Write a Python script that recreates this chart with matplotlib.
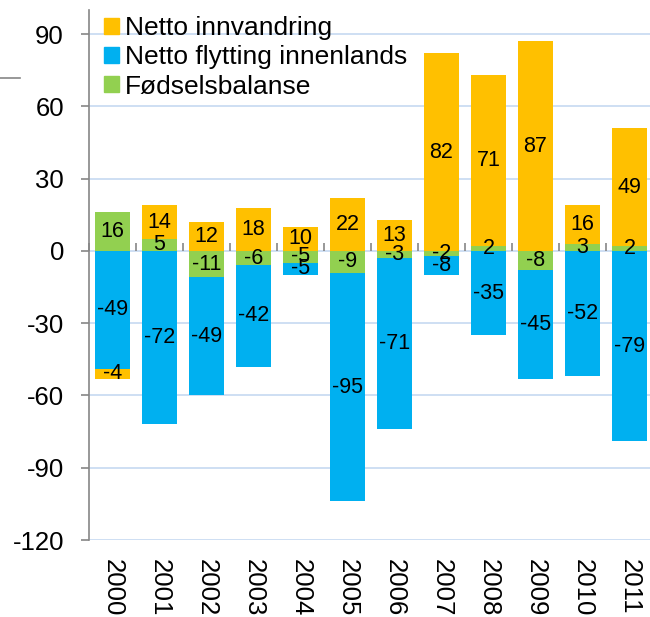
import matplotlib
matplotlib.use("Agg")
import matplotlib.pyplot as plt
import numpy as np
from matplotlib.lines import Line2D
from matplotlib.patches import Patch

plt.rcParams['font.family'] = ['Liberation Sans', 'DejaVu Sans']
plt.rcParams['axes.unicode_minus'] = False

years = ["2000", "2001", "2002", "2003", "2004", "2005", "2006", "2007", "2008", "2009", "2010", "2011"]
fodselsbalanse = [16, 5, -11, -6, -5, -9, -3, -2, 2, -8, 3, 2]
netto_flytting = [-49, -72, -49, -42, -5, -95, -71, -8, -35, -45, -52, -79]
netto_innvandring = [-4, 14, 12, 18, 10, 22, 13, 82, 71, 87, 16, 49]
yticks = [-120, -90, -60, -30, 0, 30, 60, 90]

c_orange = "#FFC000"
c_blue = "#00B0F0"
c_green = "#92D050"
grid_c = "#C6D9F1"
axis_c = "#868686"

fig = plt.figure(figsize=(6.5, 6.17), dpi=100)
ax = fig.add_axes([89/650, 1-540/617, (653-89)/650, (540-10)/617])

x = np.arange(len(years))
pos_bottom = np.zeros(len(years))
neg_bottom = np.zeros(len(years))
series = [(fodselsbalanse, c_green), (netto_flytting, c_blue), (netto_innvandring, c_orange)]
containers = []
for vals, col in series:
    v = np.array(vals, dtype=float)
    bottom = np.where(v >= 0, pos_bottom, neg_bottom)
    bc = ax.bar(x, v, width=0.75, bottom=bottom, color=col, zorder=2)
    containers.append(bc)
    pos_bottom = pos_bottom + np.where(v >= 0, v, 0)
    neg_bottom = neg_bottom + np.where(v < 0, v, 0)

for bc in containers:
    ax.bar_label(bc, labels=[f"{int(b.get_height())}" for b in bc], label_type='center',
                 fontsize=15.5, color='black', zorder=5)

ax.set_xlim(-0.5, len(years) - 0.5)
ax.set_ylim(-120, 100)
ax.set_yticks(yticks)
ax.set_yticklabels([str(t) for t in yticks])
ax.yaxis.grid(True, color=grid_c, linewidth=1.2, zorder=0)
ax.set_axisbelow(True)

for s in ['top', 'right', 'bottom']:
    ax.spines[s].set_visible(False)
ax.spines['left'].set_color(axis_c)
ax.spines['left'].set_linewidth(1.2)
ax.tick_params(axis='y', direction='out', length=6, width=1.2, color=axis_c,
               labelsize=18.5, pad=12)

ax.set_xticks(x)
ax.set_xticklabels(years, rotation=-90, fontsize=18.5, va='top', ha='center')
ax.tick_params(axis='x', length=0, pad=14)

# zero axis with category boundary ticks
zero_frac = (0 - (-120)) / 220
sec = ax.secondary_xaxis(zero_frac)
sec.set_xticks(np.arange(len(years) + 1) - 0.5)
sec.set_xticklabels([])
sec.tick_params(axis='x', direction='out', length=6, width=1.2, color=axis_c)
sec.spines['bottom'].set_color(axis_c)
sec.spines['bottom'].set_linewidth(2)
sec.spines['top'].set_visible(False)
sec.set_zorder(4)

handles = [Patch(color=c_orange), Patch(color=c_blue), Patch(color=c_green)]
labels = ["Netto innvandring", "Netto flytting innenlands", "Fødselsbalanse"]
leg = fig.legend(handles, labels, loc='upper left', bbox_to_anchor=(104/650, 1 - 16/617),
                 bbox_transform=fig.transFigure, frameon=False, fontsize=19,
                 handlelength=0.55, handleheight=0.55, handletextpad=0.25,
                 labelspacing=0.2, borderpad=0, borderaxespad=0)

fig.add_artist(Line2D([0, 20/650], [1 - 78/617, 1 - 78/617], color=axis_c, linewidth=1.2))

fig.savefig("out.png", dpi=100)
